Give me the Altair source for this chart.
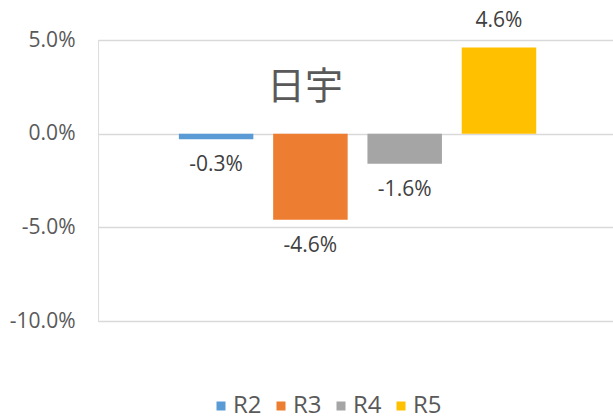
import altair as alt
import pandas as pd

series = ["R2", "R3", "R4", "R5"]
values = [-0.003, -0.046, -0.016, 0.046]
colors = ["#5B9BD5", "#ED7D31", "#A5A5A5", "#FFC000"]
y_ticks = [-0.10, -0.05, 0.0, 0.05]
title_text = "日宇"

df = pd.DataFrame({"series": series, "value": values})
title_df = pd.DataFrame({"t": [title_text]})

FONT = "Open Sans"

x_enc = alt.X("series:N", sort=series,
              scale=alt.Scale(paddingInner=0.21, paddingOuter=0.836, align=0.513),
              axis=None)
y_scale = alt.Scale(domain=[-0.10, 0.05], nice=False, zero=False)

bars = alt.Chart(df).mark_bar().encode(
    x=x_enc,
    y=alt.Y("value:Q", scale=y_scale,
            axis=alt.Axis(values=y_ticks, title=None, domain=False, ticks=False,
                          labelExpr="replace(format(datum.value, '.1%'), '\u2212', '-')",
                          labelFont=FONT, labelFontSize=21, labelColor="#595959",
                          labelPadding=23, grid=True, gridColor="#d9d9d9",
                          gridWidth=1.3)),
    color=alt.Color("series:N", sort=series,
                    scale=alt.Scale(domain=series, range=colors),
                    legend=alt.Legend(title=None, orient="none", direction="horizontal",
                                      legendX=111, legendY=354, symbolType="square",
                                      symbolSize=81, symbolStrokeWidth=0,
                                      labelFont=FONT, labelFontSize=24,
                                      labelColor="#595959", labelOffset=0,
                                      columnPadding=7, padding=0)),
)

label_base = alt.Chart(df).transform_calculate(
    label="replace(format(datum.value, '.1%'), '\u2212', '-')"
)

neg_labels = label_base.transform_filter("datum.value < 0").mark_text(
    font=FONT, fontSize=21, color="#404040", baseline="middle", dy=26
).encode(x=x_enc, y=alt.Y("value:Q", scale=y_scale), text="label:N")

pos_labels = label_base.transform_filter("datum.value >= 0").mark_text(
    font=FONT, fontSize=21, color="#404040", baseline="middle", dy=-26
).encode(x=x_enc, y=alt.Y("value:Q", scale=y_scale), text="label:N")

title_mark = alt.Chart(title_df).mark_text(
    font="Noto Sans CJK JP", fontSize=38, color="#595959",
    align="center", baseline="middle"
).encode(text="t:N", x=alt.value(207), y=alt.value(48))

chart = alt.layer(bars, neg_labels, pos_labels, title_mark).properties(
    width=515, height=281,
    autosize=alt.AutoSizeParams(type="none"),
    padding={"left": 98, "top": 40, "right": 0, "bottom": 95},
).configure_view(stroke=None).configure(background="white")

chart.save("out.html", embed_options={"renderer": "svg", "actions": False})
